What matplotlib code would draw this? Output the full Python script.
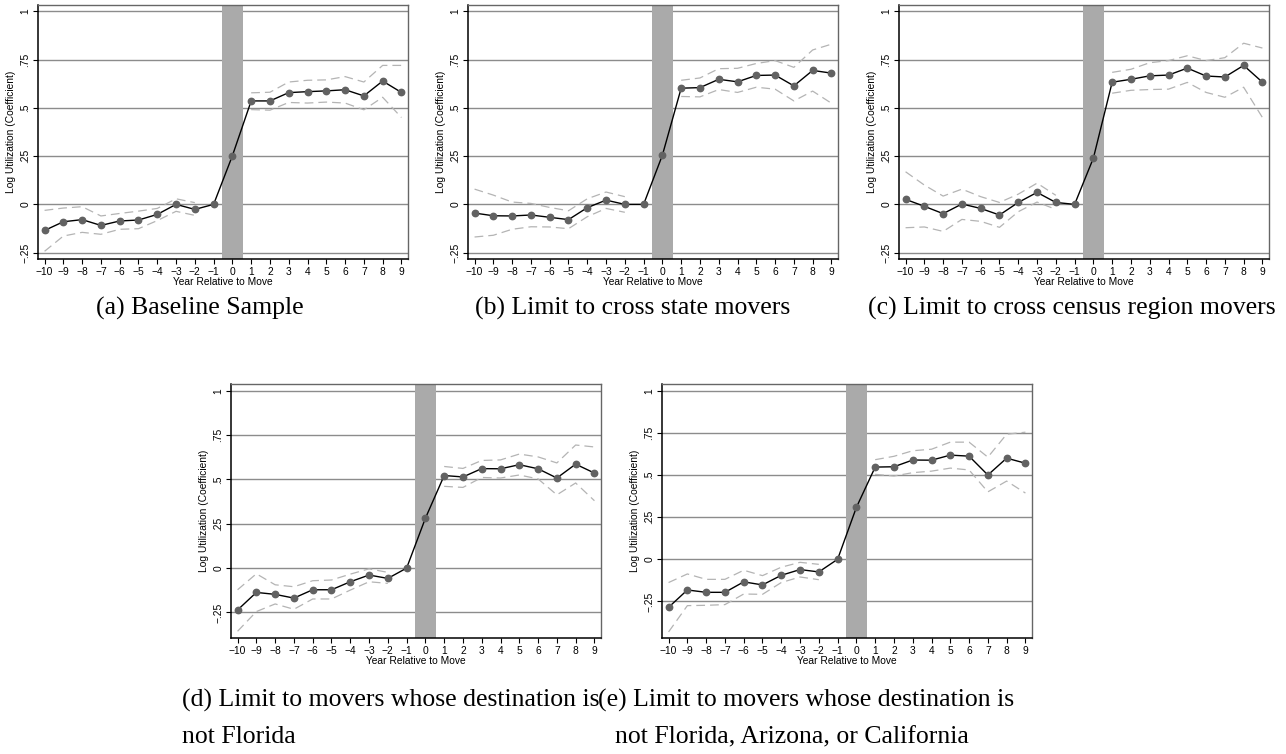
import matplotlib.pyplot as plt
import numpy as np

# event time and the years that carry a confidence band
years = list(range(-10, 10))
pre_years = list(range(-10, -1))
post_years = list(range(1, 10))

# (a) baseline sample
coef_a = [-0.135, -0.09, -0.079, -0.109, -0.086, -0.081, -0.052, 0.0, -0.026, 0.0,
          0.252, 0.536, 0.536, 0.579, 0.584, 0.588, 0.594, 0.562, 0.639, 0.58]
hi_pre_a = [-0.031, -0.019, -0.012, -0.06, -0.047, -0.035, -0.021, 0.029, 0.009]
lo_pre_a = [-0.243, -0.164, -0.145, -0.155, -0.129, -0.126, -0.084, -0.036, -0.057]
hi_post_a = [0.578, 0.581, 0.634, 0.643, 0.645, 0.662, 0.634, 0.72, 0.72]
lo_post_a = [0.491, 0.488, 0.528, 0.525, 0.53, 0.525, 0.49, 0.555, 0.45]

# (b) cross state movers
coef_b = [-0.045, -0.059, -0.06, -0.055, -0.067, -0.079, -0.017, 0.022, 0.0, 0.0,
          0.255, 0.602, 0.605, 0.648, 0.635, 0.668, 0.67, 0.614, 0.694, 0.68]
hi_pre_b = [0.079, 0.048, 0.012, 0.005, -0.016, -0.033, 0.029, 0.064, 0.04]
lo_pre_b = [-0.169, -0.16, -0.129, -0.116, -0.117, -0.126, -0.064, -0.021, -0.041]
hi_post_b = [0.643, 0.655, 0.703, 0.705, 0.73, 0.745, 0.71, 0.8, 0.83]
lo_post_b = [0.559, 0.557, 0.595, 0.58, 0.607, 0.597, 0.536, 0.587, 0.524]

# (c) cross census region movers
coef_c = [0.026, -0.01, -0.048, 0.002, -0.021, -0.055, 0.01, 0.062, 0.01, 0.0,
          0.24, 0.633, 0.648, 0.666, 0.67, 0.706, 0.665, 0.66, 0.72, 0.633]
hi_pre_c = [0.169, 0.1, 0.043, 0.079, 0.04, 0.01, 0.053, 0.11, 0.047]
lo_pre_c = [-0.121, -0.117, -0.14, -0.078, -0.088, -0.119, -0.038, 0.012, -0.026]
hi_post_c = [0.684, 0.70, 0.734, 0.745, 0.77, 0.745, 0.76, 0.835, 0.81]
lo_post_c = [0.576, 0.591, 0.595, 0.597, 0.632, 0.58, 0.555, 0.607, 0.45]

# (d) destination not Florida
coef_d = [-0.236, -0.137, -0.148, -0.169, -0.122, -0.122, -0.077, -0.039, -0.058, 0.0,
          0.281, 0.522, 0.514, 0.561, 0.56, 0.583, 0.56, 0.508, 0.586, 0.536]
hi_pre_d = [-0.122, -0.032, -0.094, -0.105, -0.071, -0.067, -0.034, -0.004, -0.024]
lo_pre_d = [-0.356, -0.245, -0.202, -0.232, -0.174, -0.174, -0.124, -0.077, -0.086]
hi_post_d = [0.573, 0.562, 0.607, 0.61, 0.643, 0.627, 0.593, 0.694, 0.683]
lo_post_d = [0.461, 0.455, 0.511, 0.508, 0.525, 0.503, 0.413, 0.48, 0.38]

# (e) destination not Florida, Arizona or California
coef_e = [-0.285, -0.182, -0.196, -0.196, -0.134, -0.152, -0.095, -0.061, -0.075, 0.0,
          0.308, 0.547, 0.549, 0.589, 0.588, 0.618, 0.612, 0.5, 0.6, 0.57]
hi_pre_e = [-0.138, -0.087, -0.119, -0.119, -0.065, -0.097, -0.047, -0.018, -0.03]
lo_pre_e = [-0.431, -0.275, -0.273, -0.269, -0.206, -0.208, -0.138, -0.105, -0.121]
hi_post_e = [0.591, 0.611, 0.644, 0.653, 0.695, 0.695, 0.606, 0.742, 0.754]
lo_post_e = [0.504, 0.494, 0.514, 0.523, 0.541, 0.53, 0.4, 0.464, 0.393]

ytick_vals = [-0.25, 0, 0.25, 0.5, 0.75, 1]
ytick_labels = ["\u2212.25", "0", ".25", ".5", ".75", "1"]
xtick_labels = [str(y).replace("-", "\u2212") for y in years]

sans = ["Liberation Sans", "DejaVu Sans"]
serif = ["Liberation Serif", "DejaVu Serif"]


def event_plot(ax, coef, hi_pre, lo_pre, hi_post, lo_post, ylim):
    ax.set_xlim(-10.35, 9.35)
    ax.set_ylim(*ylim)
    for v in ytick_vals:
        ax.axhline(v, color="#8c8c8c", lw=1.0, zorder=1)
    ax.axvspan(-0.55, 0.55, color="#aaaaaa", lw=0, zorder=2)
    dash = dict(color="#b4b4b4", lw=0.9, ls=(0, (7, 4)), zorder=3)
    ax.plot(pre_years, hi_pre, **dash)
    ax.plot(pre_years, lo_pre, **dash)
    ax.plot(post_years, hi_post, **dash)
    ax.plot(post_years, lo_post, **dash)
    ax.plot(years, coef, color="black", lw=1.0, zorder=4)
    ax.plot(years, coef, ls="none", marker="o", ms=4.6, color="#626262", zorder=5)

    ax.set_yticks(ytick_vals)
    ax.set_yticklabels(ytick_labels, rotation=90, va="center", family=sans, fontsize=7.4)
    ax.set_xticks(years)
    ax.set_xticklabels(xtick_labels, family=sans, fontsize=7.4)
    ax.tick_params(length=3.5, width=0.8, color="black", pad=2)
    ax.set_ylabel("Log Utilization (Coefficient)", family=sans, fontsize=7.4, labelpad=3)
    ax.set_xlabel("Year Relative to Move", family=sans, fontsize=7.4, labelpad=0)
    for side in ["left", "bottom"]:
        ax.spines[side].set_color("black")
        ax.spines[side].set_linewidth(1.1)
    for side in ["top", "right"]:
        ax.spines[side].set_color("#666666")
        ax.spines[side].set_linewidth(1.0)


fig = plt.figure(figsize=(12.86, 7.54), dpi=100)
W, H = 1286.0, 754.0

top_lim = (-0.283, 1.033)
panels = [
    ((38, 5, 370, 254), coef_a, hi_pre_a, lo_pre_a, hi_post_a, lo_post_a, top_lim),
    ((468, 5, 370, 254), coef_b, hi_pre_b, lo_pre_b, hi_post_b, lo_post_b, top_lim),
    ((899, 5, 370, 254), coef_c, hi_pre_c, lo_pre_c, hi_post_c, lo_post_c, top_lim),
    ((231, 384, 370, 254), coef_d, hi_pre_d, lo_pre_d, hi_post_d, lo_post_d, (-0.394, 1.038)),
    ((662, 384, 370, 254), coef_e, hi_pre_e, lo_pre_e, hi_post_e, lo_post_e, (-0.467, 1.04)),
]
for (x0, y0, w, h), coef, hp, lp, hq, lq, lim in panels:
    ax = fig.add_axes([x0 / W, 1 - (y0 + h) / H, w / W, h / H])
    event_plot(ax, coef, hp, lp, hq, lq, lim)

cap = dict(family=serif, fontsize=18.5)
fig.text(200 / W, 1 - 308 / H, "(a) Baseline Sample", ha="center", va="center", **cap)
fig.text(633 / W, 1 - 308 / H, "(b) Limit to cross state movers", ha="center", va="center", **cap)
fig.text(1072 / W, 1 - 308 / H, "(c) Limit to cross census region movers", ha="center", va="center", **cap)
fig.text(182 / W, 1 - 700 / H, "(d) Limit to movers whose destination is", ha="left", va="center", **cap)
fig.text(182 / W, 1 - 737 / H, "not Florida", ha="left", va="center", **cap)
fig.text(598 / W, 1 - 700 / H, "(e) Limit to movers whose destination is", ha="left", va="center", **cap)
fig.text(615 / W, 1 - 737 / H, "not Florida, Arizona, or California", ha="left", va="center", **cap)

fig.savefig("out.png", dpi=100)
